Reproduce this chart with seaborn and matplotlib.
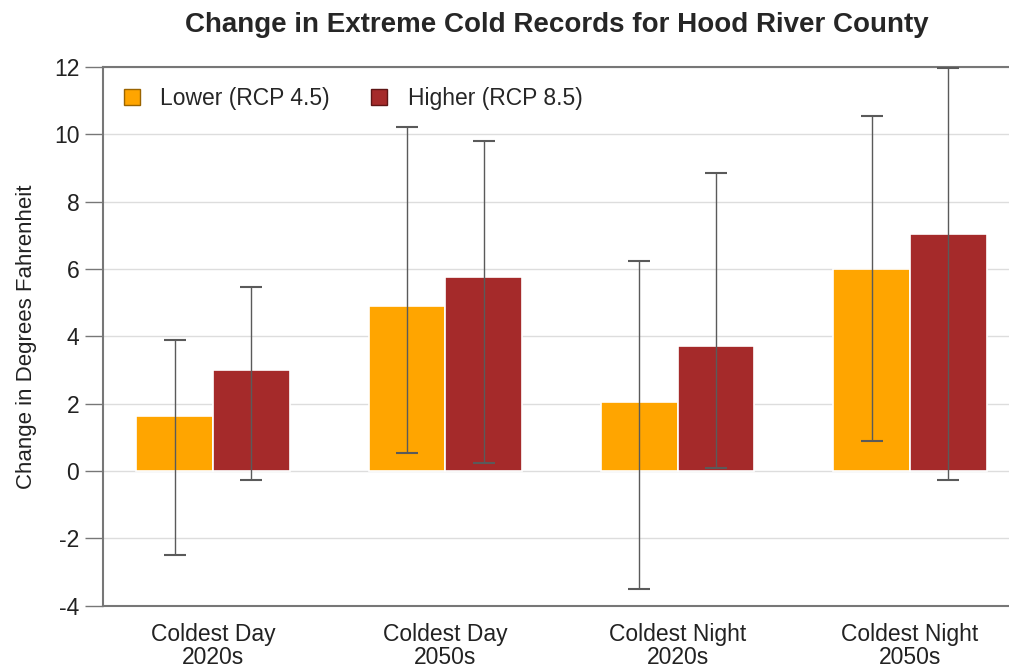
import numpy as np
import pandas as pd
import matplotlib
matplotlib.use("Agg")
import matplotlib.pyplot as plt
from matplotlib.patches import Patch
import seaborn as sns

# ---- data ----
categories = ["Coldest Day\n2020s", "Coldest Day\n2050s", "Coldest Night\n2020s", "Coldest Night\n2050s"]
scenarios = ["Lower (RCP 4.5)", "Higher (RCP 8.5)"]

lower_mean = [1.65, 4.9, 2.05, 6.0]
lower_high = [3.9, 10.2, 6.25, 10.55]
lower_low = [-2.5, 0.55, -3.5, 0.9]

higher_mean = [3.0, 5.75, 3.7, 7.05]
higher_high = [5.45, 9.8, 8.85, 11.95]
higher_low = [-0.25, 0.25, 0.1, -0.25]

colors = ["#FFA500", "#A52A2A"]
edge_colors = ["#9a6400", "#5e1515"]

df = pd.DataFrame({
    "category": categories * 2,
    "scenario": [scenarios[0]] * 4 + [scenarios[1]] * 4,
    "value": lower_mean + higher_mean,
    "high": lower_high + higher_high,
    "low": lower_low + higher_low,
})

sns.set_theme(style="white")
plt.rcParams["font.family"] = ["Liberation Sans", "DejaVu Sans"]
plt.rcParams["axes.unicode_minus"] = False

fig = plt.figure(figsize=(10.09, 6.68), dpi=100)
ax = fig.add_axes([0.102, 0.093, 0.95, 0.807])

sns.barplot(
    data=df, x="category", y="value", hue="scenario",
    order=categories, hue_order=scenarios,
    palette=colors, width=0.66, errorbar=None,
    edgecolor="white", linewidth=1.2, saturation=1,
    legend=False, ax=ax,
)

# error bars centred on each bar
for container, sc in zip(ax.containers, scenarios):
    sub = df[df["scenario"] == sc].set_index("category").loc[categories]
    xs = [p.get_x() + p.get_width() / 2 for p in container.patches]
    ax.errorbar(
        xs, sub["value"],
        yerr=[sub["value"] - sub["low"], sub["high"] - sub["value"]],
        fmt="none", ecolor="#5a5a5a", elinewidth=1, capsize=8, capthick=1.5,
        zorder=4,
    )

ax.set_ylim(-4, 12)
ax.set_yticks(np.arange(-4, 13, 2))
ax.set_xlim(-0.474, 3.652)
ax.yaxis.grid(True, color="#dddddd", linewidth=1)
ax.set_axisbelow(True)

for s in ["left", "bottom", "top"]:
    ax.spines[s].set_color("#777777")
    ax.spines[s].set_linewidth(1.5)
ax.spines["right"].set_visible(False)

ax.tick_params(axis="y", which="both", left=True, length=13, width=1, color="#777777",
               labelsize=16.5, labelcolor="#222222", pad=4)
ax.tick_params(axis="x", bottom=False, labelsize=16.5, labelcolor="#222222", pad=6)
for lab in ax.get_xticklabels():
    lab.set_linespacing(1.05)
ax.set_xlabel("")
ax.set_ylabel("Change in Degrees Fahrenheit", fontsize=16, color="#222222", labelpad=12)

fig.suptitle("Change in Extreme Cold Records for Hood River County",
             fontsize=20, fontweight="bold", x=0.552, y=0.982)

handles = [Patch(facecolor=c, edgecolor=e, linewidth=1) for c, e in zip(colors, edge_colors)]
ax.legend(handles, scenarios, loc="upper left", ncol=2, frameon=False,
          fontsize=16.5, handlelength=0.7, handleheight=0.7, handletextpad=0.9,
          columnspacing=1.8, bbox_to_anchor=(0.0, 1.0), borderaxespad=0.5)

fig.savefig("out.png", dpi=100)
